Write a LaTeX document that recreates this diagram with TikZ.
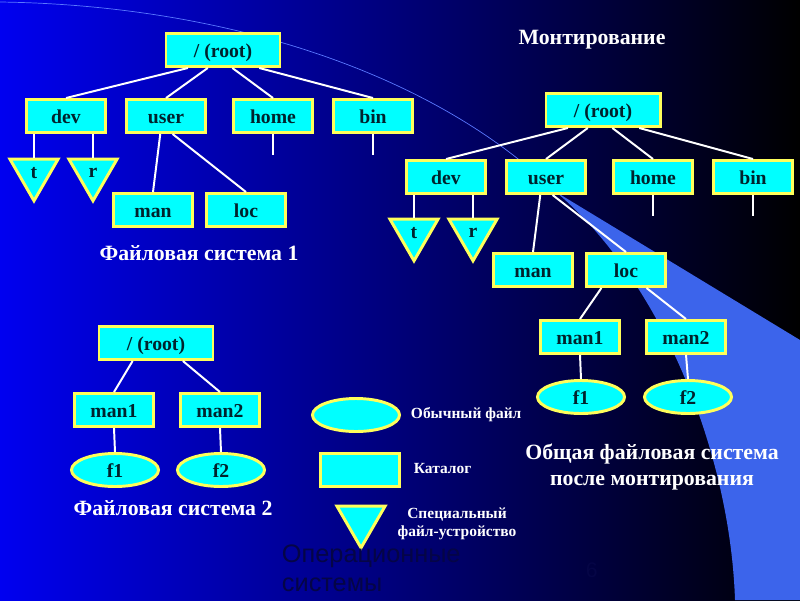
\documentclass[tikz,border=0pt]{standalone}
\usepackage{fontspec}
\setmainfont{Liberation Serif}
\newfontfamily\footfont{Liberation Sans}
\usetikzlibrary{shapes.geometric,calc}
\definecolor{bgblue}{RGB}{0,0,240}
\definecolor{bgmid}{RGB}{0,0,105}
\definecolor{swoosh}{RGB}{60,100,235}
\definecolor{arcline}{RGB}{90,120,255}
\definecolor{boxfill}{RGB}{0,255,255}
\definecolor{boxline}{RGB}{255,255,90}
\definecolor{boxtext}{RGB}{0,35,45}
\definecolor{foot}{RGB}{5,5,70}

\begin{document}
\begin{tikzpicture}[
    x=0.025cm, y=-0.025cm,
    font=\bfseries\fontsize{14}{16}\selectfont,
    dir/.style={draw=boxline, fill=boxfill, text=boxtext, line width=2.1pt, minimum width=1.975cm, minimum height=0.825cm, inner sep=0pt, text height=11pt, text depth=0pt},
    rootdir/.style={dir, minimum width=2.85cm},
    ordfile/.style={ellipse, draw=boxline, fill=boxfill, text=boxtext, line width=2.1pt, minimum width=2.175cm, minimum height=0.825cm, inner sep=0pt, text height=11pt, text depth=0pt},
    special/.style={regular polygon, regular polygon sides=3, shape border rotate=180, draw=boxline, fill=boxfill, text=boxtext, line width=2.1pt, minimum size=1.39cm, inner sep=0pt},
    link/.style={white, line width=1.4pt},
    caption/.style={white, align=center, font=\bfseries\fontsize{15.5}{19}\selectfont},
    legend/.style={white, align=center, font=\bfseries\fontsize{11}{12.8}\selectfont},
    footer/.style={foot, font=\footfont\fontsize{18}{20}\selectfont}
]
\useasboundingbox (0,0) rectangle (800,600);
\shade[left color=bgblue, middle color=bgmid, right color=black] (0,0) rectangle (800,600);
\fill[swoosh] (556,192) -- (800,340) -- (800,600) -- (735,600) .. controls (730,450) and (660,280) .. (556,192);
\draw[arcline, line width=0.5pt] (0,2) .. controls (220,5) and (430,70) .. (556,192);

% file system 1
\node[rootdir] (root1) at (223,50) {/ (root)};
\node[dir] (dev1) at (66,116) {dev};
\node[dir] (usr1) at (166,116) {user};
\node[dir] (home1) at (273,116) {home};
\node[dir] (bin1) at (373,116) {bin};
\node[special] (tdev1) at (34,173) {t};
\node[special] (rdev1) at (93,173) {r};
\node[dir] (man1) at (153,210) {man};
\node[dir] (loc1) at (246,210) {loc};
\node[caption] (cap1) at (199,253) {Файловая система 1};

% mounted file system
\node[caption] (capmount) at (592,40) {Монтирование};
\node[rootdir] (root2) at (603,110) {/ (root)};
\node[dir] (dev2) at (446,177) {dev};
\node[dir] (usr2) at (546,177) {user};
\node[dir] (home2) at (653,177) {home};
\node[dir] (bin2) at (753,177) {bin};
\node[special] (tdev2) at (414,233) {t};
\node[special] (rdev2) at (473,233) {r};
\node[dir] (man2) at (533,270) {man};
\node[dir] (loc2) at (626,270) {loc};
\node[dir] (mana2) at (580,337) {man1};
\node[dir] (manb2) at (686,337) {man2};
\node[ordfile] (fa2) at (581,397) {f1};
\node[ordfile] (fb2) at (688,397) {f2};
\node[caption] (capall) at (652,467) {Общая файловая система\\после монтирования};

% file system 2
\node[rootdir] (root3) at (156,343) {/ (root)};
\node[dir] (mana3) at (114,410) {man1};
\node[dir] (manb3) at (220,410) {man2};
\node[ordfile] (fa3) at (115,470) {f1};
\node[ordfile] (fb3) at (221,470) {f2};
\node[caption] (cap2) at (173,508) {Файловая система 2};

% legend
\node[ordfile] (legfile) at (356,415) {};
\node[dir] (legdir) at (360,470) {};
\node[special] (legdev) at (361,520) {};
\node[legend, anchor=west] (legfiletxt) at (406,415) {Обычный файл};
\node[legend, anchor=west] (legdirtxt) at (409,468) {Каталог};
\node[legend] (legdevtxt) at (457,524) {Специальный\\файл-устройство};

\node[footer, anchor=base west] (foot1) at (277,562) {Операционные};
\node[footer, anchor=base west] (foot2) at (277,591) {системы};
\node[footer, font=\footfont\fontsize{15}{18}\selectfont, anchor=base west] (pagenum) at (581,577) {6};

\foreach \r in {1,2} {
  \foreach \c/\f in {dev/0.2, usr/0.37, home/0.58, bin/0.81}
    \draw[link] ($(root\r.south west)!\f!(root\r.south east)$) -- (\c\r.north);
  \foreach \c in {tdev, rdev}
    \draw[link] (dev\r.south -| \c\r.north) -- (\c\r.north);
  \draw[link] ($(usr\r.south west)!0.43!(usr\r.south east)$) -- (man\r.north);
  \draw[link] ($(usr\r.south west)!0.58!(usr\r.south east)$) -- (loc\r.north);
  \foreach \c in {home, bin} {
    \coordinate (\c\r-end) at ($(\c\r.south)+(0,21)$);
    \draw[link] (\c\r.south) -- (\c\r-end);
  }
}
\draw[link] ($(loc2.south west)!0.2!(loc2.south east)$) -- (mana2.north);
\draw[link] ($(loc2.south west)!0.75!(loc2.south east)$) -- (manb2.north);
\draw[link] ($(root3.south west)!0.3!(root3.south east)$) -- (mana3.north);
\draw[link] ($(root3.south west)!0.73!(root3.south east)$) -- (manb3.north);
\foreach \m/\f in {mana2/fa2, manb2/fb2, mana3/fa3, manb3/fb3}
  \draw[link] (\m.south) -- (\f.north);
\end{tikzpicture}
\end{document}
